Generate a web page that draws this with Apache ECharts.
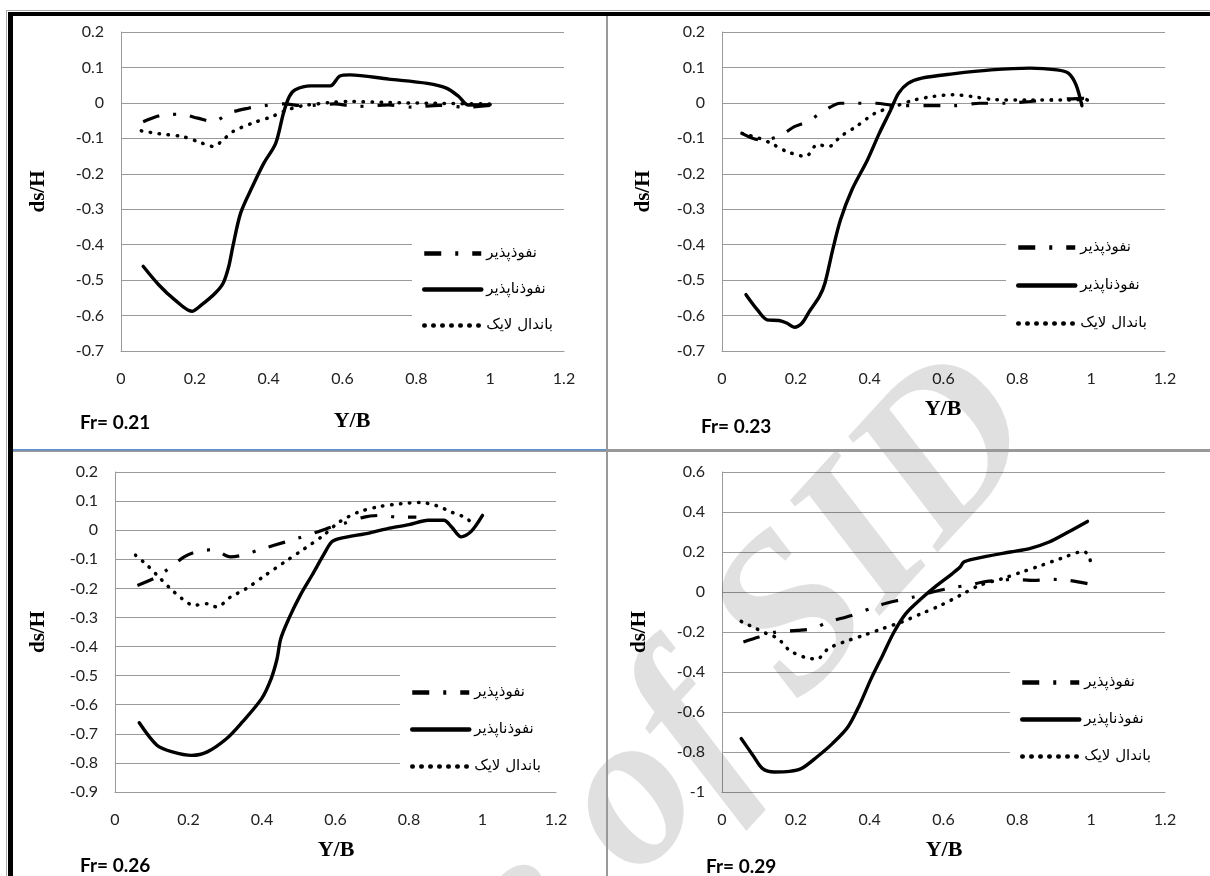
<!DOCTYPE html>
<html>
<head>
<meta charset="utf-8">
<script src="https://cdn.jsdelivr.net/npm/echarts@6/dist/echarts.min.js"></script>
<style>
html,body{margin:0;padding:0;background:#fff;}
#main{width:1210px;height:876px;}
</style>
</head>
<body>
<div id="main"></div>
<script>
// Series names (legend labels)
const seriesNames = ['نفوذپذیر', 'نفوذناپذیر', 'باندال لایک'];
const panelTitles = ['Fr= 0.21', 'Fr= 0.23', 'Fr= 0.26', 'Fr= 0.29'];
const xTickLabels = ['0', '0.2', '0.4', '0.6', '0.8', '1', '1.2'];

// Fr = 0.21
const fr021Permeable = [[0.06,-0.053],[0.113,-0.034],[0.16,-0.032],[0.208,-0.043],[0.25,-0.053],[0.292,-0.029],[0.345,-0.015],[0.387,-0.008],[0.44,-0.003],[0.493,-0.008],[0.577,-0.003],[0.64,-0.01],[0.725,-0.006],[0.788,-0.012],[0.862,-0.007],[0.936,-0.012],[1.0,-0.007]];
const fr021Impermeable = [[0.06,-0.461],[0.102,-0.513],[0.145,-0.555],[0.192,-0.588],[0.218,-0.57],[0.255,-0.537],[0.277,-0.508],[0.292,-0.461],[0.303,-0.405],[0.324,-0.311],[0.356,-0.236],[0.387,-0.17],[0.419,-0.114],[0.44,-0.029],[0.456,0.018],[0.472,0.037],[0.514,0.048],[0.567,0.048],[0.593,0.076],[0.62,0.079],[0.725,0.067],[0.83,0.055],[0.883,0.041],[0.915,0.018],[0.941,-0.006],[1.0,-0.005]];
const fr021Bandal = [[0.055,-0.079],[0.102,-0.087],[0.166,-0.095],[0.208,-0.109],[0.25,-0.123],[0.277,-0.104],[0.303,-0.081],[0.356,-0.057],[0.408,-0.039],[0.45,-0.02],[0.493,-0.008],[0.567,0.001],[0.62,0.004],[0.725,0.001],[0.83,-0.001],[1.0,-0.003]];

// Fr = 0.23
const fr023Permeable = [[0.054,-0.086],[0.101,-0.104],[0.154,-0.095],[0.196,-0.067],[0.232,-0.053],[0.274,-0.024],[0.321,-0.001],[0.363,-0.001],[0.415,-0.001],[0.478,-0.008],[0.551,-0.008],[0.625,-0.008],[0.698,-0.001],[0.771,-0.001],[0.834,0.004],[0.917,0.01],[0.98,0.013],[0.996,-0.001]];
const fr023Impermeable = [[0.065,-0.541],[0.096,-0.584],[0.122,-0.612],[0.154,-0.614],[0.175,-0.621],[0.196,-0.633],[0.217,-0.621],[0.237,-0.588],[0.264,-0.546],[0.279,-0.508],[0.3,-0.414],[0.321,-0.33],[0.352,-0.245],[0.394,-0.161],[0.426,-0.086],[0.457,-0.02],[0.478,0.027],[0.504,0.055],[0.541,0.07],[0.625,0.082],[0.729,0.093],[0.834,0.098],[0.907,0.093],[0.938,0.084],[0.959,0.051],[0.975,-0.008]];
const fr023Bandal = [[0.054,-0.086],[0.101,-0.1],[0.133,-0.114],[0.175,-0.137],[0.227,-0.151],[0.258,-0.118],[0.29,-0.123],[0.321,-0.095],[0.363,-0.067],[0.415,-0.029],[0.468,-0.01],[0.52,0.008],[0.572,0.018],[0.625,0.023],[0.677,0.018],[0.729,0.01],[0.834,0.008],[0.938,0.008],[0.985,0.01],[1.0,-0.001]];

// Fr = 0.26
const fr026Permeable = [[0.061,-0.19],[0.114,-0.161],[0.146,-0.132],[0.188,-0.092],[0.219,-0.075],[0.267,-0.067],[0.314,-0.092],[0.346,-0.086],[0.404,-0.063],[0.462,-0.041],[0.494,-0.029],[0.541,-0.01],[0.589,0.011],[0.62,0.022],[0.678,0.045],[0.726,0.051],[0.768,0.045],[0.82,0.045]];
const fr026Impermeable = [[0.066,-0.662],[0.114,-0.739],[0.156,-0.762],[0.209,-0.774],[0.251,-0.762],[0.304,-0.716],[0.346,-0.66],[0.399,-0.579],[0.425,-0.51],[0.441,-0.442],[0.451,-0.373],[0.473,-0.304],[0.504,-0.224],[0.536,-0.155],[0.567,-0.086],[0.589,-0.041],[0.61,-0.029],[0.694,-0.009],[0.747,0.007],[0.8,0.019],[0.852,0.034],[0.895,0.034],[0.916,0.011],[0.942,-0.023],[0.968,-0.006],[1.0,0.051]];
const fr026Bandal = [[0.056,-0.086],[0.088,-0.121],[0.124,-0.167],[0.151,-0.201],[0.182,-0.235],[0.214,-0.258],[0.251,-0.253],[0.277,-0.264],[0.314,-0.23],[0.357,-0.201],[0.409,-0.155],[0.462,-0.109],[0.515,-0.064],[0.567,-0.018],[0.61,0.028],[0.662,0.062],[0.715,0.08],[0.778,0.091],[0.831,0.095],[0.873,0.085],[0.916,0.062],[0.958,0.04],[0.974,0.017]];

// Fr = 0.29
const fr029Permeable = [[0.058,-0.25],[0.1,-0.225],[0.147,-0.2],[0.204,-0.192],[0.246,-0.183],[0.288,-0.15],[0.351,-0.117],[0.425,-0.067],[0.477,-0.042],[0.519,-0.025],[0.571,0.0],[0.634,0.025],[0.666,0.033],[0.707,0.05],[0.749,0.058],[0.791,0.063],[0.844,0.058],[0.896,0.063],[0.938,0.058],[0.99,0.042]];
const fr029Impermeable = [[0.052,-0.733],[0.084,-0.817],[0.11,-0.883],[0.142,-0.9],[0.183,-0.897],[0.215,-0.883],[0.257,-0.825],[0.299,-0.758],[0.341,-0.675],[0.372,-0.567],[0.404,-0.433],[0.435,-0.317],[0.466,-0.2],[0.498,-0.108],[0.54,-0.033],[0.582,0.033],[0.624,0.092],[0.645,0.125],[0.655,0.15],[0.687,0.167],[0.781,0.2],[0.833,0.217],[0.886,0.25],[0.938,0.3],[0.99,0.353]];
const fr029Bandal = [[0.052,-0.147],[0.089,-0.18],[0.121,-0.208],[0.152,-0.233],[0.183,-0.292],[0.225,-0.327],[0.257,-0.335],[0.288,-0.283],[0.33,-0.25],[0.383,-0.217],[0.435,-0.183],[0.487,-0.15],[0.54,-0.108],[0.592,-0.067],[0.645,-0.017],[0.697,0.033],[0.76,0.067],[0.812,0.1],[0.865,0.133],[0.917,0.167],[0.98,0.203],[0.996,0.167],[1.0,0.125]];

// y-axis ranges per panel
const yMins = [-0.7, -0.7, -0.9, -1.0];
const yMaxs = [0.2, 0.2, 0.2, 0.6];
const yIntervals = [0.1, 0.1, 0.1, 0.2];

const panelData = [
  [fr021Permeable, fr021Impermeable, fr021Bandal],
  [fr023Permeable, fr023Impermeable, fr023Bandal],
  [fr026Permeable, fr026Impermeable, fr026Bandal],
  [fr029Permeable, fr029Impermeable, fr029Bandal]
];

// layout
const grids = [
  {left:121, top:32, width:443, height:319},
  {left:722, top:32, width:443, height:319},
  {left:115, top:472, width:441, height:320},
  {left:722, top:472, width:443, height:320}
];
const yNameGaps = [72, 68, 66, 72];
const legendPos = [
  {left:412, top:236, gap:21},
  {left:1006, top:230, gap:23},
  {left:400, top:675, gap:22},
  {left:1010, top:665, gap:22}
];
const yTitlePos = [[352,421],[943,409],[336,850],[944,850]];
const frPos = [[80,423],[701,427],[80,866],[706,867]];

const gridColor = '#9a9a9a';
const tickFont = {fontFamily:'Lato, "Open Sans", sans-serif', fontSize:16, color:'#222'};

const styles = [
  {width:3.2, type:[17,14,3,14], cap:'butt', color:'#000'},
  {width:3.4, type:'solid', cap:'round', color:'#000'},
  {width:3.5, type:[0.5,8.5], cap:'round', color:'#000'}
];

const option = {
  animation:false,
  backgroundColor:'#fff',
  grid: grids.map(g => Object.assign({containLabel:false}, g)),
  xAxis: grids.map((g,i) => ({
    type:'value', gridIndex:i, min:0, max:1.2, interval:0.2,
    axisLine:{show:true, onZero:false, lineStyle:{color:gridColor, width:1}},
    axisTick:{show:false},
    splitLine:{show:false},
    axisLabel:Object.assign({margin:20, formatter:(v)=>xTickLabels[Math.round(v/0.2)]}, tickFont)
  })),
  yAxis: grids.map((g,i) => ({
    type:'value', gridIndex:i, min:yMins[i], max:yMaxs[i], interval:yIntervals[i],
    name:'ds/H', nameLocation:'middle', nameGap:yNameGaps[i],
    nameTextStyle:{fontFamily:'"Liberation Serif", serif', fontWeight:'bold', fontSize:21, color:'#000'},
    axisLine:{show:true, onZero:false, lineStyle:{color:gridColor, width:1}},
    axisTick:{show:false},
    splitLine:{show:true, lineStyle:{color:gridColor, width:1}},
    axisLabel:Object.assign({margin:17, formatter:(v)=>{const r=Math.round(v*10)/10; return String(r);}}, tickFont)
  })),
  legend: legendPos.map((p,i) => ({
    orient:'vertical', left:p.left, top:p.top, itemWidth:57, itemHeight:14, itemGap:p.gap,
    padding:[10,40,10,10], backgroundColor:'#fff', selectedMode:false,
    itemStyle:{opacity:0},
    lineStyle:{width:4.5},
    textStyle:{fontFamily:'"DejaVu Sans", sans-serif', fontSize:15, color:'#000'},
    data:seriesNames.slice()
  })),
  graphic: [],
  series: []
};

panelData.forEach((arrs, i) => {
  arrs.forEach((d, k) => {
    option.series.push({
      name: seriesNames[k], type:'line', xAxisIndex:i, yAxisIndex:i,
      data: d, symbol:'none', smooth:0.3, z:3,
      lineStyle: styles[k], itemStyle:{color:'#000'}
    });
  });
});

const g = option.graphic;
// watermark
g.push({type:'text', z:1, x:1085, y:470, rotation:0.83,
  style:{text:'Archive of SID', font:'italic bold 220px "Liberation Serif", serif', fill:'rgba(0,0,0,0.12)', textAlign:'right', textVerticalAlign:'bottom'}});
// frame
g.push({type:'line', z:10, shape:{x1:6,y1:10.5,x2:1210,y2:10.5}, style:{stroke:'#aaa', lineWidth:1}});
g.push({type:'line', z:10, shape:{x1:6.5,y1:10,x2:6.5,y2:876}, style:{stroke:'#aaa', lineWidth:1}});
g.push({type:'rect', z:10, shape:{x:8,y:12,width:1202,height:4}, style:{fill:'#000'}});
g.push({type:'rect', z:10, shape:{x:8,y:12,width:5,height:864}, style:{fill:'#000'}});
g.push({type:'rect', z:10, shape:{x:606,y:16,width:2,height:860}, style:{fill:'#999'}});
g.push({type:'rect', z:10, shape:{x:13,y:449,width:1197,height:3}, style:{fill:'#999'}});
g.push({type:'rect', z:11, shape:{x:13,y:449,width:593,height:1.5}, style:{fill:'#5b8fd0'}});
// titles
yTitlePos.forEach(p => g.push({type:'text', z:5, x:p[0], y:p[1],
  style:{text:'Y/B', font:'bold 22px "Liberation Serif", serif', fill:'#000', textAlign:'center', textVerticalAlign:'middle'}}));
frPos.forEach((p,i) => g.push({type:'text', z:5, x:p[0], y:p[1],
  style:{text:panelTitles[i], font:'bold 19px Lato, "Open Sans", sans-serif', fill:'#000', textAlign:'left', textVerticalAlign:'middle'}}));

const chart = echarts.init(document.getElementById('main'), null, {renderer:'canvas'});
chart.setOption(option);
</script>
</body>
</html>
